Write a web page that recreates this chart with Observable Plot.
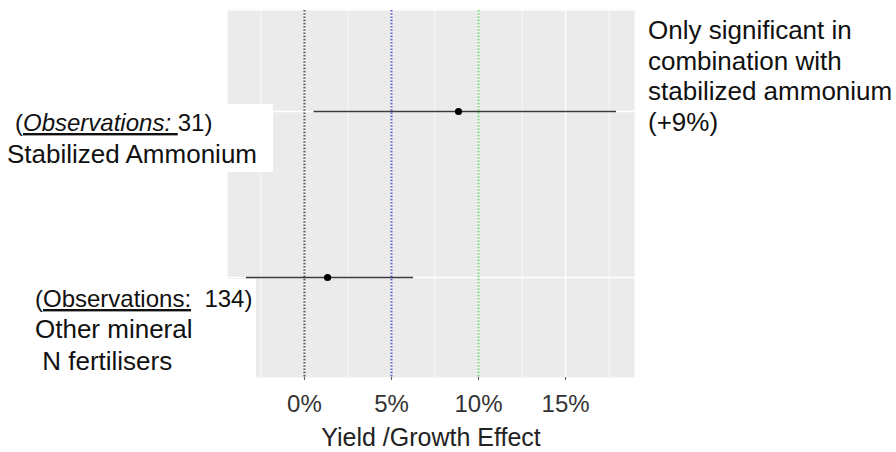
<!DOCTYPE html>
<html>
<head>
<meta charset="utf-8">
<script src="https://cdn.jsdelivr.net/npm/d3@7"></script>
<script src="https://cdn.jsdelivr.net/npm/@observablehq/plot@0.6"></script>
<style>
  html, body { margin: 0; padding: 0; background: white; }
  #chart svg { display: block; }
</style>
</head>
<body>
<div id="chart"></div>
<script>
// ---- data ----
const categories = ["Stabilized Ammonium", "Other mineral N fertilisers"];
const observations = [31, 134];
const estimate = [8.85, 1.33];
const lower = [0.52, -3.36];
const upper = [17.9, 6.24];
const refLines = [0, 5, 10];
const xTicks = [0, 5, 10, 15];
const xMinor = [-2.5, 2.5, 7.5, 12.5, 17.5];
const annotation = ["Only significant in", "combination with", "stabilized ammonium", "(+9%)"];

const rows = categories.map((c, i) => ({cat: c, est: estimate[i], lo: lower[i], hi: upper[i], n: observations[i]}));
const refColors = ["#555555", "#5a5ad0", "#74d874"];

const FONT = "'Liberation Sans', Arial, Helvetica, sans-serif";

const svg = Plot.plot({
  width: 896,
  height: 452,
  marginLeft: 227,
  marginRight: 262,
  marginTop: 10,
  marginBottom: 75,
  style: {fontFamily: FONT, background: "white"},
  x: {domain: [-4.42, 18.96]},
  y: {type: "point", domain: categories, padding: 0.6, axis: null},
  marks: [
    Plot.frame({fill: "#EBEBEB", stroke: null}),
    Plot.ruleX(xMinor, {stroke: "white", strokeWidth: 0.7}),
    Plot.ruleX(xTicks, {stroke: "white", strokeWidth: 1.3}),
    Plot.ruleY(categories, {y: d => d, stroke: "white", strokeWidth: 1.3}),
    ...refLines.map((v, i) => Plot.ruleX([v], {stroke: refColors[i], strokeDasharray: "1.6,1.6", strokeWidth: 2})),
    Plot.link(rows, {x1: "lo", x2: "hi", y1: "cat", y2: "cat", stroke: "#3a3a3a", strokeWidth: 1.4}),
    Plot.dot(rows, {x: "est", y: "cat", r: 3.6, fill: "black", stroke: null}),
    Plot.axisX({ticks: xTicks, tickFormat: d => d + "%", tickSize: 3, tickPadding: 14,
      fontSize: 24, color: "#333", stroke: "#555", label: null}),
    Plot.axisX({ticks: [], label: "Yield /Growth Effect", labelAnchor: "center", labelArrow: "none",
      labelOffset: 68, fontSize: 25, color: "#222"})
  ]
});
document.getElementById("chart").appendChild(svg);

// ---- label overlays, positioned through the plot's scales ----
const yS = svg.scale("y");
const xS = svg.scale("x");
const panelLeft = Math.min(...xS.range);
const panelBottom = 452 - 75;
const s = d3.select(svg);
const g = s.append("g").attr("font-family", FONT).attr("fill", "#111").attr("text-anchor", "start");

const yTop = yS.apply(categories[0]);
const yBot = yS.apply(categories[1]);

// white boxes behind the category labels
g.append("rect").attr("x", 0).attr("y", yTop - 7).attr("width", 273).attr("height", 68).attr("fill", "white");
g.append("rect").attr("x", 0).attr("y", yBot + 2).attr("width", panelLeft + 29)
  .attr("height", panelBottom - yBot - 1).attr("fill", "white");

// top label
const t1 = g.append("text").attr("x", 15).attr("y", yTop + 20).attr("font-size", 24);
t1.append("tspan").text("(");
t1.append("tspan").attr("font-style", "italic").attr("text-decoration", "underline").text("Observations:\u00a0");
t1.append("tspan").text(observations[0] + ")");
g.append("text").attr("x", 7).attr("y", yTop + 52).attr("font-size", 26).text(categories[0]);

// bottom label
const t2 = g.append("text").attr("x", 35).attr("y", yBot + 30).attr("font-size", 24);
t2.append("tspan").text("(");
t2.append("tspan").attr("text-decoration", "underline").text("Observations:");
t2.append("tspan").text("\u00a0\u00a0" + observations[1] + ")");
g.append("text").attr("x", 35).attr("y", yBot + 61).attr("font-size", 26).text("Other mineral");
g.append("text").attr("x", 35).attr("y", yBot + 93).attr("font-size", 26).text("\u00a0N fertilisers");

// right annotation
const a = g.append("text").attr("font-size", 26);
annotation.forEach((line, i) => {
  a.append("tspan").attr("x", 648).attr("y", 39 + i * 30.5).text(line);
});
</script>
</body>
</html>
